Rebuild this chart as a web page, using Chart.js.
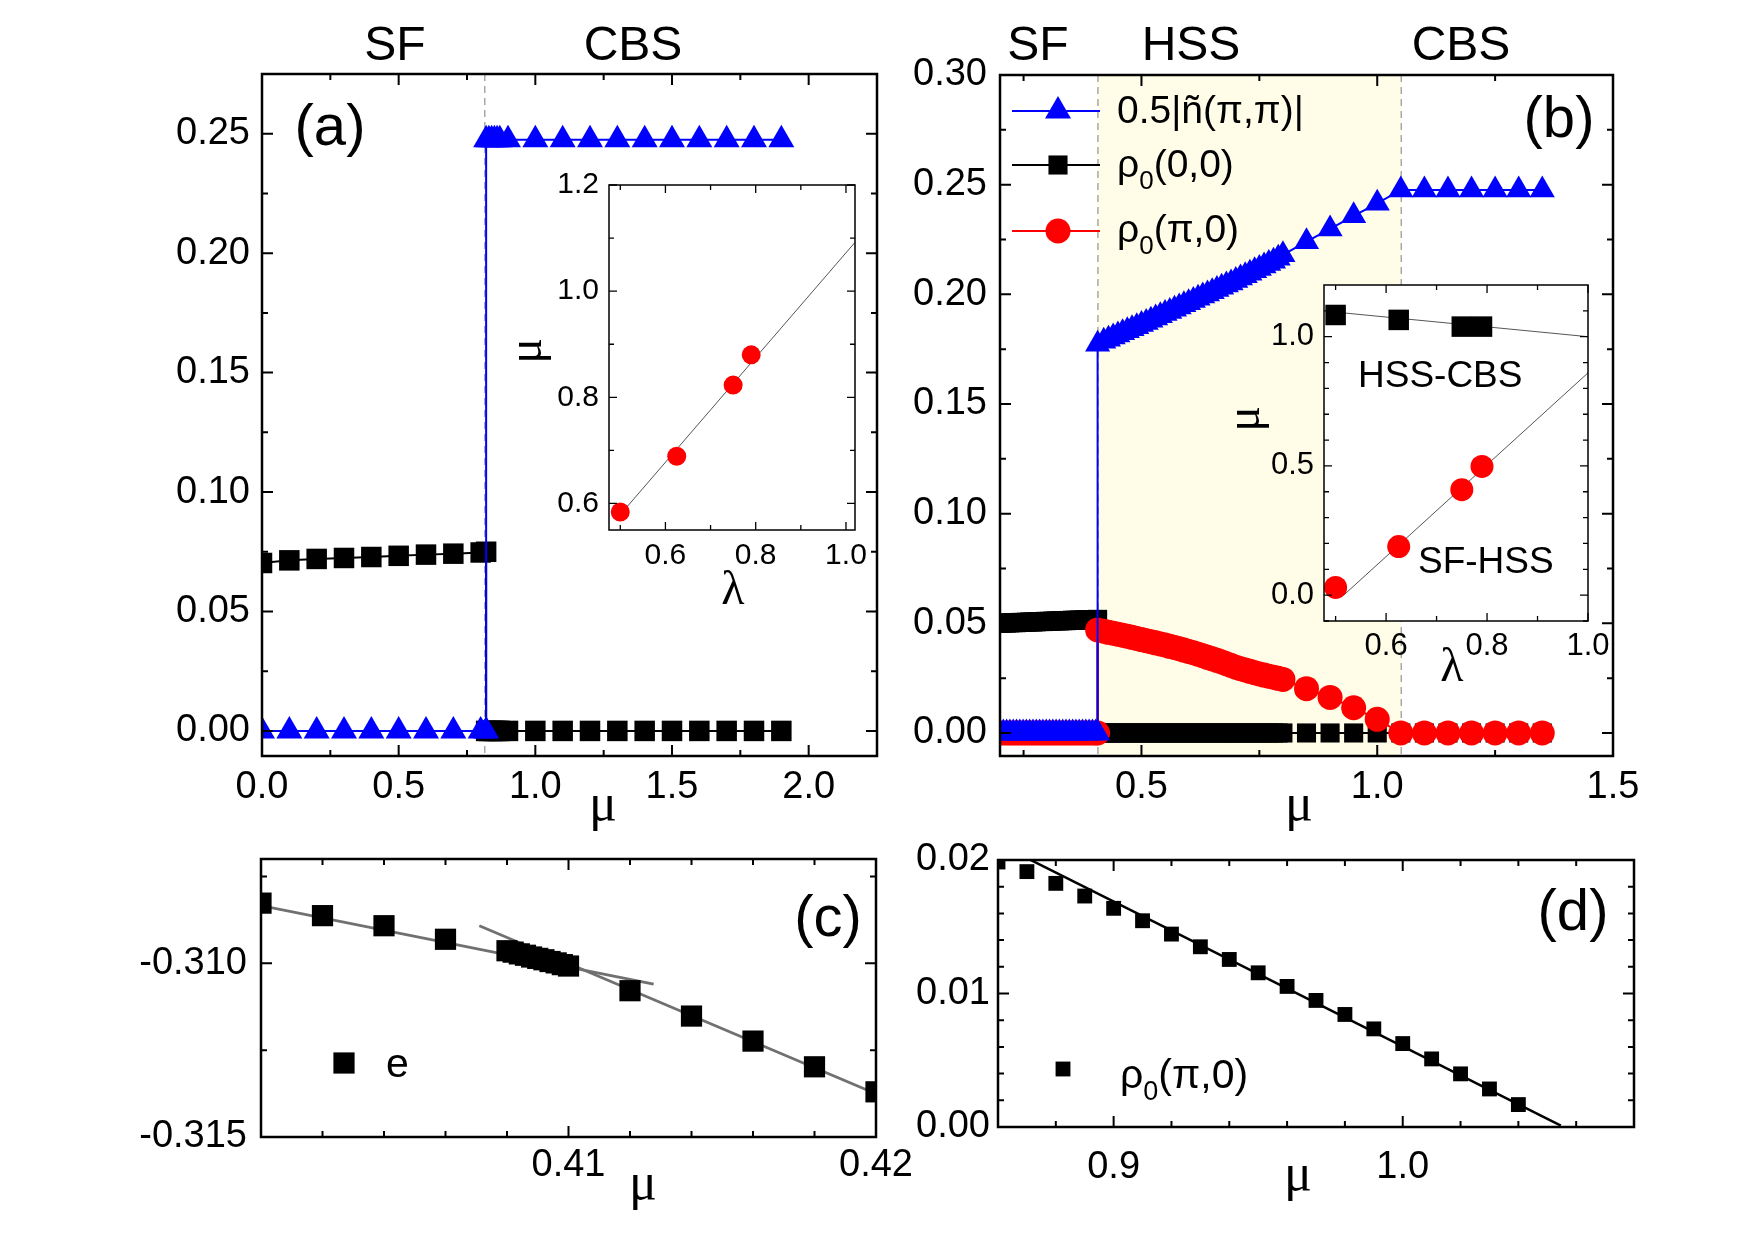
<!DOCTYPE html>
<html>
<head>
<meta charset="utf-8">
<script src="https://cdn.jsdelivr.net/npm/chart.js@4.4.1/dist/chart.umd.min.js"></script>
<style>
  html, body { margin: 0; padding: 0; background: #fff; overflow: hidden; }
  #wrap { position: relative; width: 1754px; height: 1241px; }
  canvas { position: absolute; left: 0; top: 0; }
</style>
</head>
<body>
<div id="wrap">
  <canvas id="pa" width="1754" height="1241"></canvas>
  <canvas id="pai" width="1754" height="1241"></canvas>
  <canvas id="pb" width="1754" height="1241"></canvas>
  <canvas id="pbi" width="1754" height="1241"></canvas>
  <canvas id="pc" width="1754" height="1241"></canvas>
  <canvas id="pd" width="1754" height="1241"></canvas>
</div>
<script>
'use strict';

// ---------- panel (a) ----------
const aMuSF = [0.0, 0.1, 0.2, 0.3, 0.4, 0.5, 0.6, 0.7, 0.8, 0.82];
const aRho00SF = [0.0703, 0.0714, 0.0720, 0.0724, 0.0728, 0.0733, 0.0738, 0.0742, 0.0747, 0.0750];
const aNpiSF = [0, 0, 0, 0, 0, 0, 0, 0, 0, 0];
const aMuCBS = [0.82, 0.83, 0.84, 0.85, 0.86, 0.87, 0.9, 1.0, 1.1, 1.2, 1.3, 1.4, 1.5, 1.6, 1.7, 1.8, 1.9];
const aRho00CBS = [0, 0, 0, 0, 0, 0, 0, 0, 0, 0, 0, 0, 0, 0, 0, 0, 0];
const aNpiCBS = [0.2475, 0.2475, 0.2475, 0.2475, 0.2475, 0.2475, 0.2475, 0.2475, 0.2475, 0.2475, 0.2475, 0.2475, 0.2475, 0.2475, 0.2475, 0.2475, 0.2475];
const aXTicks = [0, 0.5, 1.0, 1.5, 2.0];
const aXMinor = [0.25, 0.75, 1.25, 1.75];
const aYTicks = [0, 0.05, 0.10, 0.15, 0.20, 0.25];
const aYMinor = [0.025, 0.075, 0.125, 0.175, 0.225];
const aBoundary = 0.815;

// inset of (a)
const aiLambda = [0.5, 0.625, 0.75, 0.79];
const aiMu = [0.584, 0.689, 0.823, 0.880];
const aiFitLambda = [0.4965, 1.02];
const aiFitMu = [0.5755, 1.092];
const aiXTicks = [0.6, 0.8, 1.0];
const aiXMinor = [0.5, 0.7, 0.9];
const aiYTicks = [0.6, 0.8, 1.0, 1.2];
const aiYMinor = [0.7, 0.9, 1.1];

// ---------- panel (b) ----------
const bMuSF = [0.200, 0.207, 0.214, 0.221, 0.228, 0.235, 0.242, 0.249, 0.256, 0.263, 0.270, 0.277, 0.284, 0.291, 0.298,
  0.305, 0.312, 0.319, 0.326, 0.333, 0.340, 0.347, 0.354, 0.361, 0.368, 0.375, 0.382, 0.389, 0.396, 0.403, 0.407];
const bRho00SF = [0.0500, 0.0501, 0.0501, 0.0502, 0.0503, 0.0503, 0.0504, 0.0504, 0.0505, 0.0506, 0.0506, 0.0507, 0.0508, 0.0508, 0.0509,
  0.0509, 0.0510, 0.0511, 0.0511, 0.0512, 0.0512, 0.0513, 0.0514, 0.0514, 0.0515, 0.0515, 0.0516, 0.0516, 0.0517, 0.0517, 0.0518];
const bNpiSF = [0, 0, 0, 0, 0, 0, 0, 0, 0, 0, 0, 0, 0, 0, 0, 0, 0, 0, 0, 0, 0, 0, 0, 0, 0, 0, 0, 0, 0, 0, 0];
const bRhoPi0SF = [0, 0, 0, 0, 0, 0, 0, 0, 0, 0, 0, 0, 0, 0, 0, 0, 0, 0, 0, 0, 0, 0, 0, 0, 0, 0, 0, 0, 0, 0, 0];

const bMuHSS = [0.407, 0.42, 0.43, 0.44, 0.45, 0.46, 0.47, 0.48, 0.49, 0.50, 0.51, 0.52, 0.53, 0.54, 0.55, 0.56, 0.57, 0.58,
  0.59, 0.60, 0.61, 0.62, 0.63, 0.64, 0.65, 0.66, 0.67, 0.68, 0.69, 0.70, 0.71, 0.72, 0.73, 0.74, 0.75, 0.76, 0.77, 0.78,
  0.79, 0.80, 0.85, 0.90, 0.95, 1.00];
const bNpiHSS = [0.1772, 0.1786, 0.1795, 0.1805, 0.1815, 0.1825, 0.1834, 0.1843, 0.1852, 0.1862, 0.1872, 0.1882, 0.1892, 0.1902,
  0.1912, 0.1922, 0.1932, 0.1942, 0.1952, 0.1962, 0.1972, 0.1982, 0.1992, 0.2002, 0.2012, 0.2022, 0.2032, 0.2042, 0.2052,
  0.2063, 0.2074, 0.2085, 0.2096, 0.2107, 0.2118, 0.2129, 0.2140, 0.2151, 0.2164, 0.2180, 0.2240, 0.2298, 0.2358, 0.2415];
const bRho00HSS = [0, 0, 0, 0, 0, 0, 0, 0, 0, 0, 0, 0, 0, 0, 0, 0, 0, 0, 0, 0, 0, 0, 0, 0, 0, 0, 0, 0, 0, 0, 0, 0, 0, 0, 0, 0,
  0, 0, 0, 0, 0, 0, 0, 0];
const bRhoPi0HSS = [0.0470, 0.0464, 0.0459, 0.0455, 0.0450, 0.0446, 0.0441, 0.0436, 0.0431, 0.0426, 0.0421, 0.0416, 0.0411,
  0.0406, 0.0401, 0.0395, 0.0390, 0.0384, 0.0378, 0.0372, 0.0366, 0.0359, 0.0352, 0.0345, 0.0338, 0.0331, 0.0324, 0.0316,
  0.0308, 0.0300, 0.0293, 0.0287, 0.0281, 0.0275, 0.0269, 0.0264, 0.0259, 0.0254, 0.0249, 0.0244, 0.0202, 0.0162, 0.0115, 0.0062];

const bMuCBS = [1.05, 1.10, 1.15, 1.20, 1.25, 1.30, 1.35];
const bNpiCBS = [0.2476, 0.2476, 0.2476, 0.2476, 0.2476, 0.2476, 0.2476];
const bRho00CBS = [0, 0, 0, 0, 0, 0, 0];
const bRhoPi0CBS = [0, 0, 0, 0, 0, 0, 0];

const bXTicks = [0.5, 1.0, 1.5];
const bXMinor = [0.25, 0.75, 1.25];
const bYTicks = [0, 0.05, 0.10, 0.15, 0.20, 0.25, 0.30];
const bYMinor = [0.025, 0.075, 0.125, 0.175, 0.225, 0.275];
const bHSS = [0.4077, 1.051];

// inset of (b)
const biLambda = [0.5, 0.625, 0.75, 0.79];
const biMuHSSCBS = [1.084, 1.065, 1.039, 1.039];
const biMuSFHSS = [0.030, 0.188, 0.408, 0.498];
const biFitHCLambda = [0.5, 1.0];
const biFitHCMu = [1.095, 1.0];
const biFitSHLambda = [0.516, 1.0];
const biFitSHMu = [0.0, 0.86];
const biXTicks = [0.6, 0.8, 1.0];
const biXMinor = [0.5, 0.7, 0.9];
const biYTicks = [0.0, 0.5, 1.0];
const biYMinor = [-0.1, 0.1, 0.2, 0.3, 0.4, 0.6, 0.7, 0.8, 0.9, 1.1];

// ---------- panel (c) ----------
const cMu = [0.400, 0.402, 0.404, 0.406, 0.4080, 0.4082, 0.4084, 0.4086, 0.4088, 0.4090, 0.4092, 0.4094, 0.4096, 0.4098,
  0.4100, 0.412, 0.414, 0.416, 0.418, 0.420];
const cE = [-0.30827, -0.30863, -0.30892, -0.30931, -0.30964, -0.30968, -0.30973, -0.30977, -0.30982, -0.30986, -0.30990,
  -0.30995, -0.30999, -0.31004, -0.31008, -0.31079, -0.31152, -0.31224, -0.31298, -0.31370];
const cFit1Mu = [0.4000, 0.41277];
const cFit1E = [-0.30834, -0.31060];
const cFit2Mu = [0.4071, 0.4199];
const cFit2E = [-0.30892, -0.31372];
const cXTicks = [0.41, 0.42];
const cXMinor = [0.402, 0.404, 0.406, 0.408, 0.412, 0.414, 0.416, 0.418];
const cYTicks = [-0.315, -0.310];
const cYMinor = [-0.3125, -0.3075];

// ---------- panel (d) ----------
const dMu = [0.86, 0.87, 0.88, 0.89, 0.90, 0.91, 0.92, 0.93, 0.94, 0.95, 0.96, 0.97, 0.98, 0.99, 1.00, 1.01, 1.02, 1.03, 1.04];
const dRho = [0.01985, 0.01913, 0.01825, 0.01730, 0.01638, 0.01545, 0.01445, 0.01350, 0.01255, 0.01155, 0.01053, 0.00948,
  0.00843, 0.00735, 0.00625, 0.00510, 0.00398, 0.00285, 0.00168];
const dFitMu = [0.8704, 1.0547];
const dFitRho = [0.0201, 0.0001];
const dXTicks = [0.9, 1.0];
const dXMinor = [0.88, 0.92, 0.94, 0.96, 0.98, 1.02, 1.04, 1.06];
const dYTicks = [0.00, 0.01, 0.02];
const dYMinor = [0.002, 0.004, 0.006, 0.008, 0.012, 0.014, 0.016, 0.018];


const W = 1754, H = 1241;
const YW = 140, XH = 80; // fixed axis box sizes, so the plot areas land where wanted
const SANS = "'Liberation Sans', Arial, sans-serif";
const SERIF = "'Liberation Serif', 'Times New Roman', serif";
const COLORS = { blue: '#0000ff', red: '#ff0000', black: '#000000', grey: '#707070', fit: '#555555', band: '#fffde8' };

const pts = (xs, ys) => xs.map((x, i) => ({ x: x, y: ys[i] }));

// extra drawing (frame, inward ticks, shading, texts) kept per canvas
const DECO = {};

function marker(ctx, type, x, y, r, color) {
  ctx.fillStyle = color;
  ctx.beginPath();
  if (type === 'triangle') {
    ctx.moveTo(x, y - r);
    ctx.lineTo(x + 0.866 * r, y + 0.5 * r);
    ctx.lineTo(x - 0.866 * r, y + 0.5 * r);
  } else if (type === 'rect') {
    const s = r * Math.SQRT1_2;
    ctx.rect(x - s, y - s, 2 * s, 2 * s);
  } else {
    ctx.arc(x, y, r, 0, 2 * Math.PI);
  }
  ctx.closePath();
  ctx.fill();
}

function drawText(ctx, t) {
  ctx.save();
  ctx.translate(t.x, t.y);
  if (t.rot) ctx.rotate(t.rot);
  ctx.fillStyle = '#000';
  ctx.textBaseline = t.base || 'alphabetic';
  ctx.textAlign = 'left';
  const parts = t.parts || [{ t: t.t, size: t.size }];
  const fam = t.fam || SANS;
  let total = 0;
  parts.forEach(p => { ctx.font = p.size + 'px ' + fam; total += ctx.measureText(p.t).width; });
  let cx = t.align === 'center' ? -total / 2 : 0;
  parts.forEach(p => {
    ctx.font = p.size + 'px ' + fam;
    ctx.fillText(p.t, cx, p.dy || 0);
    cx += ctx.measureText(p.t).width;
  });
  ctx.restore();
}

const decoPlugin = {
  id: 'deco',
  beforeDatasetsDraw(chart) {
    const d = DECO[chart.canvas.id];
    const { ctx, chartArea: ca } = chart;
    const x = chart.scales.x;
    ctx.save();
    if (d.fill) {
      ctx.fillStyle = d.fill;
      ctx.fillRect(ca.left, ca.top, ca.right - ca.left, ca.bottom - ca.top);
    }
    if (d.band) {
      const x0 = x.getPixelForValue(d.band[0]), x1 = x.getPixelForValue(d.band[1]);
      ctx.fillStyle = COLORS.band;
      ctx.fillRect(x0, ca.top, x1 - x0, ca.bottom - ca.top);
    }
    (d.dashed || []).forEach(v => {
      const px = x.getPixelForValue(v);
      ctx.strokeStyle = '#a8a8a8';
      ctx.lineWidth = 1.5;
      ctx.setLineDash([7, 5]);
      ctx.beginPath();
      ctx.moveTo(px, ca.top);
      ctx.lineTo(px, ca.bottom);
      ctx.stroke();
    });
    ctx.restore();
  },
  afterDraw(chart) {
    const d = DECO[chart.canvas.id];
    const { ctx, chartArea: ca } = chart;
    const { x, y } = chart.scales;
    ctx.save();
    ctx.strokeStyle = '#000';
    ctx.lineWidth = d.tickW;
    const xMaj = x.ticks.map(t => t.value).concat(d.xExtra || []);
    const yMaj = y.ticks.map(t => t.value).concat(d.yExtra || []);
    const xt = (vals, len) => vals.forEach(v => {
      const px = x.getPixelForValue(v);
      ctx.beginPath();
      ctx.moveTo(px, ca.bottom); ctx.lineTo(px, ca.bottom - len);
      ctx.moveTo(px, ca.top); ctx.lineTo(px, ca.top + len);
      ctx.stroke();
    });
    const yt = (vals, len) => vals.forEach(v => {
      const py = y.getPixelForValue(v);
      ctx.beginPath();
      ctx.moveTo(ca.left, py); ctx.lineTo(ca.left + len, py);
      ctx.moveTo(ca.right, py); ctx.lineTo(ca.right - len, py);
      ctx.stroke();
    });
    xt(xMaj, d.major); xt(d.xMinor, d.minor);
    yt(yMaj, d.major); yt(d.yMinor, d.minor);
    ctx.lineWidth = d.frameW;
    ctx.strokeRect(ca.left, ca.top, ca.right - ca.left, ca.bottom - ca.top);

    (d.keys || []).forEach(k => {
      if (k.line) {
        ctx.strokeStyle = k.color;
        ctx.lineWidth = 2;
        ctx.beginPath();
        ctx.moveTo(k.line[0], k.y);
        ctx.lineTo(k.line[1], k.y);
        ctx.stroke();
      }
      marker(ctx, k.type, k.x, k.y, k.r, k.color);
    });
    (d.texts || []).forEach(t => drawText(ctx, t));
    ctx.restore();
  }
};

function axis(pos, min, max, ticks, digits, size, pad) {
  return {
    type: 'linear',
    position: pos,
    min: min,
    max: max,
    grid: { display: false, drawTicks: false },
    border: { display: false },
    ticks: {
      autoSkip: false, maxRotation: 0, minRotation: 0, padding: pad, color: '#000',
      font: { family: SANS, size: size },
      callback: v => v.toFixed(digits)
    },
    afterBuildTicks: s => { s.ticks = ticks.map(v => ({ value: v })); },
    afterFit: s => { if (pos === 'bottom') s.height = XH; else s.width = YW; }
  };
}

function series(data, color, style, r, width, order, showLine) {
  return {
    data: data,
    borderColor: color,
    backgroundColor: color,
    borderWidth: width,
    pointStyle: style,
    pointRadius: r,
    pointBorderWidth: 0,
    pointBackgroundColor: color,
    showLine: showLine !== false,
    tension: 0,
    order: order
  };
}

function panel(id, box, xAxis, yAxis, datasets) {
  return new Chart(document.getElementById(id), {
    type: 'line',
    data: { datasets: datasets },
    options: {
      responsive: false,
      animation: false,
      events: [],
      devicePixelRatio: 1,
      layout: {
        autoPadding: false,
        padding: { left: box[0] - YW, top: box[1], right: W - box[2], bottom: H - box[3] - XH }
      },
      scales: { x: xAxis, y: yAxis },
      plugins: { legend: { display: false }, tooltip: { enabled: false } }
    },
    plugins: [decoPlugin]
  });
}

// ---------- (a) ----------
DECO.pa = {
  major: 11, minor: 6, tickW: 2, frameW: 2.5, xMinor: aXMinor, yMinor: aYMinor, dashed: [aBoundary],
  texts: [
    { t: 'SF', x: 395, y: 60, size: 48, align: 'center' },
    { t: 'CBS', x: 633, y: 60, size: 48, align: 'center' },
    { t: '(a)', x: 330, y: 129, size: 58, align: 'center', base: 'middle' },
    { t: 'μ', x: 603, y: 820, size: 52, align: 'center', fam: SERIF }
  ]
};
panel('pa', [262, 74, 877, 756],
  axis('bottom', 0, 2.25, aXTicks, 1, 38, 9),
  axis('left', -0.0105, 0.275, aYTicks, 2, 38, 12),
  [
    series(pts(aMuSF, aNpiSF).concat(pts(aMuCBS, aNpiCBS)), COLORS.blue, 'triangle', 15, 2, 0),
    series(pts(aMuSF, aRho00SF).concat(pts(aMuCBS, aRho00CBS)), COLORS.black, 'rect', 14.5, 2, 1)
  ]);

// ---------- inset (a) ----------
DECO.pai = {
  major: 8, minor: 5, tickW: 1.3, frameW: 1.5, fill: '#ffffff', xMinor: aiXMinor, yMinor: aiYMinor,
  texts: [
    { t: 'μ', x: 528, y: 351, size: 48, align: 'center', base: 'middle', fam: SERIF, rot: -Math.PI / 2 },
    { t: 'λ', x: 733, y: 604, size: 48, align: 'center', fam: SERIF }
  ]
};
panel('pai', [609, 185, 855, 530],
  axis('bottom', 0.475, 1.02, aiXTicks, 1, 30, 8),
  axis('left', 0.55, 1.2, aiYTicks, 1, 30, 10),
  [
    series(pts(aiLambda, aiMu), COLORS.red, 'circle', 9.5, 0, 0, false),
    series(pts(aiFitLambda, aiFitMu), COLORS.fit, 'circle', 0, 1, 1)
  ]);

// ---------- (b) ----------
DECO.pb = {
  major: 11, minor: 6, tickW: 2, frameW: 2.5, xMinor: bXMinor, yMinor: bYMinor, band: bHSS, dashed: bHSS,
  keys: [
    { type: 'triangle', x: 1058, y: 111, r: 15, color: COLORS.blue, line: [1012, 1100] },
    { type: 'rect', x: 1058, y: 165, r: 13.5, color: COLORS.black, line: [1012, 1100] },
    { type: 'circle', x: 1058, y: 231, r: 12.5, color: COLORS.red, line: [1012, 1100] }
  ],
  texts: [
    { t: 'SF', x: 1038, y: 60, size: 48, align: 'center' },
    { t: 'HSS', x: 1191, y: 60, size: 48, align: 'center' },
    { t: 'CBS', x: 1461, y: 60, size: 48, align: 'center' },
    { t: '(b)', x: 1559, y: 121, size: 58, align: 'center', base: 'middle' },
    { t: 'μ', x: 1299, y: 820, size: 52, align: 'center', fam: SERIF },
    { t: '0.5|ñ(π,π)|', x: 1117, y: 123, size: 39 },
    { x: 1117, y: 177, parts: [{ t: 'ρ', size: 39 }, { t: '0', size: 26, dy: 12 }, { t: '(0,0)', size: 39 }] },
    { x: 1117, y: 242, parts: [{ t: 'ρ', size: 39 }, { t: '0', size: 26, dy: 12 }, { t: '(π,0)', size: 39 }] }
  ]
};
panel('pb', [1000, 75, 1613, 756],
  axis('bottom', 0.2, 1.5, bXTicks, 1, 38, 9),
  axis('left', -0.0105, 0.30, bYTicks, 2, 38, 13),
  [
    series(pts(bMuSF, bNpiSF).concat(pts(bMuHSS, bNpiHSS), pts(bMuCBS, bNpiCBS)), COLORS.blue, 'triangle', 14.5, 2, 0),
    series(pts(bMuSF, bRhoPi0SF).concat(pts(bMuHSS, bRhoPi0HSS), pts(bMuCBS, bRhoPi0CBS)), COLORS.red, 'circle', 12.5, 2, 1),
    series(pts(bMuSF, bRho00SF).concat(pts(bMuHSS, bRho00HSS), pts(bMuCBS, bRho00CBS)), COLORS.black, 'rect', 13.5, 2, 2)
  ]);

// ---------- inset (b) ----------
DECO.pbi = {
  major: 8, minor: 5, tickW: 1.3, frameW: 1.5, fill: '#ffffff', xMinor: biXMinor, yMinor: biYMinor,
  texts: [
    { t: 'μ', x: 1246, y: 419, size: 48, align: 'center', base: 'middle', fam: SERIF, rot: -Math.PI / 2 },
    { t: 'λ', x: 1452, y: 681, size: 48, align: 'center', fam: SERIF },
    { t: 'HSS-CBS', x: 1358, y: 387, size: 37 },
    { t: 'SF-HSS', x: 1418, y: 573, size: 37 }
  ]
};
panel('pbi', [1324, 285, 1588, 621],
  axis('bottom', 0.477, 1.0, biXTicks, 1, 31, 7),
  axis('left', -0.1, 1.2, biYTicks, 1, 31, 10),
  [
    series(pts(biLambda, biMuHSSCBS), COLORS.black, 'rect', 14.5, 0, 0, false),
    series(pts(biLambda, biMuSFHSS), COLORS.red, 'circle', 11.5, 0, 0, false),
    series(pts(biFitHCLambda, biFitHCMu), COLORS.fit, 'circle', 0, 1, 1),
    series(pts(biFitSHLambda, biFitSHMu), COLORS.fit, 'circle', 0, 1, 1)
  ]);

// ---------- (c) ----------
DECO.pc = {
  major: 11, minor: 6, tickW: 2, frameW: 2.5, xMinor: cXMinor, yMinor: cYMinor, xExtra: [0.40],
  keys: [{ type: 'rect', x: 344, y: 1063, r: 15, color: COLORS.black }],
  texts: [
    { t: '(c)', x: 828, y: 920, size: 58, align: 'center', base: 'middle' },
    { t: 'μ', x: 643, y: 1199, size: 52, align: 'center', fam: SERIF },
    { t: 'e', x: 386, y: 1077, size: 41 }
  ]
};
panel('pc', [261, 859, 876, 1137],
  axis('bottom', 0.40, 0.42, cXTicks, 2, 38, 6),
  axis('left', -0.315, -0.307, cYTicks, 3, 38, 14),
  [
    series(pts(cMu, cE), COLORS.black, 'rect', 15, 0, 0, false),
    series(pts(cFit1Mu, cFit1E), COLORS.grey, 'circle', 0, 2.8, 1),
    series(pts(cFit2Mu, cFit2E), COLORS.grey, 'circle', 0, 2.8, 1)
  ]);

// ---------- (d) ----------
DECO.pd = {
  major: 11, minor: 6, tickW: 2, frameW: 2.5, xMinor: dXMinor, yMinor: dYMinor,
  keys: [{ type: 'rect', x: 1063, y: 1069, r: 10.5, color: COLORS.black }],
  texts: [
    { t: '(d)', x: 1573, y: 914, size: 58, align: 'center', base: 'middle' },
    { t: 'μ', x: 1298, y: 1190, size: 52, align: 'center', fam: SERIF },
    { x: 1120, y: 1088, parts: [{ t: 'ρ', size: 41 }, { t: '0', size: 27, dy: 12 }, { t: '(π,0)', size: 41 }] }
  ]
};
panel('pd', [998, 860, 1634, 1127],
  axis('bottom', 0.86, 1.08, dXTicks, 1, 38, 18),
  axis('left', 0, 0.02, dYTicks, 2, 38, 8),
  [
    series(pts(dMu, dRho), COLORS.black, 'rect', 10.5, 0, 0, false),
    series(pts(dFitMu, dFitRho), COLORS.black, 'circle', 0, 2.5, 1)
  ]);
</script>
</body>
</html>
